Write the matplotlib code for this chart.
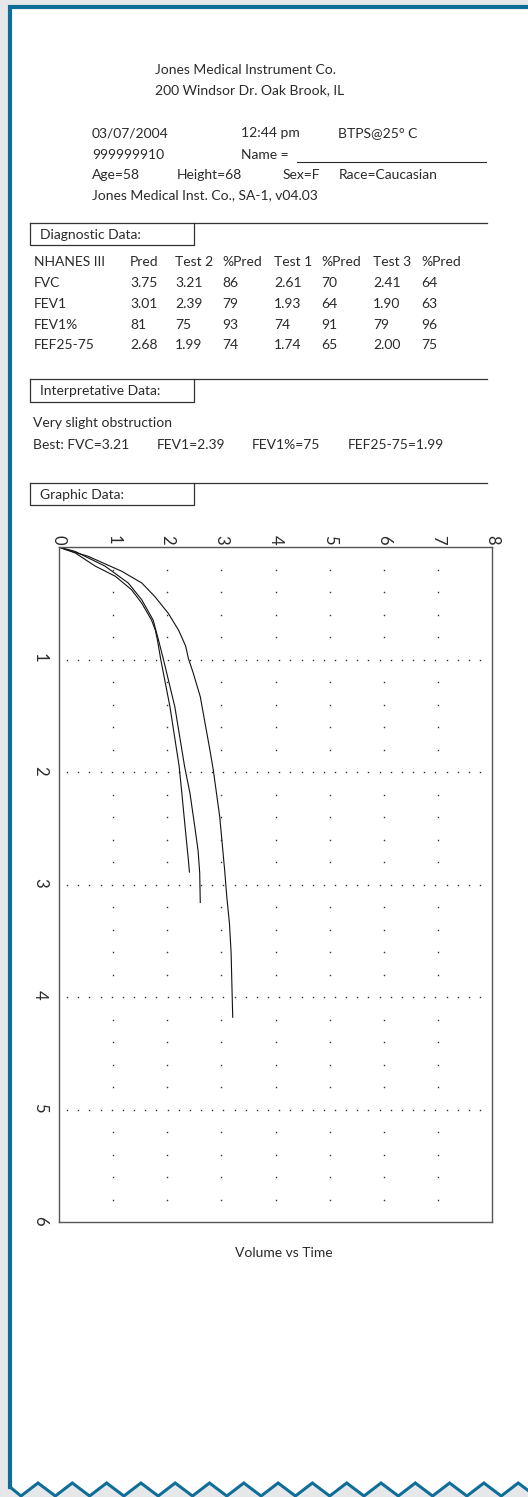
import matplotlib.pyplot as plt
import numpy as np

plt.rcParams['font.family'] = ['Lato', 'DejaVu Sans']

# volume-time traces (time in s, volume in L)
test2_time = [0, 0.02, 0.083, 0.216, 0.32, 0.44, 0.59, 0.74, 0.88, 0.99, 1.12, 1.33,
              1.57, 1.81, 1.98, 2.19, 2.40, 2.61, 2.87, 3.11, 3.35, 3.61, 4.00, 4.18]
test2_vol = [0, 0.10, 0.54, 1.16, 1.53, 1.77, 2.02, 2.21, 2.34, 2.39, 2.48, 2.61,
             2.70, 2.79, 2.85, 2.91, 2.97, 3.01, 3.06, 3.10, 3.15, 3.18, 3.20, 3.21]

test1_time = [0, 0.04, 0.17, 0.32, 0.47, 0.65, 0.83, 1.00, 1.42, 1.95, 2.19, 2.49, 2.70, 2.90, 3.16]
test1_vol = [0, 0.30, 0.85, 1.28, 1.53, 1.74, 1.84, 1.93, 2.14, 2.32, 2.42, 2.51, 2.57, 2.60, 2.61]

test3_time = [0, 0.053, 0.17, 0.26, 0.38, 0.50, 0.65, 0.74, 0.83, 1.00, 1.42, 1.95, 2.19, 2.49, 2.78, 2.89]
test3_vol = [0, 0.30, 0.67, 1.04, 1.34, 1.53, 1.71, 1.78, 1.82, 1.88, 2.05, 2.22, 2.27, 2.33, 2.39, 2.41]

# diagnostic table
table_cols = ['NHANES III', 'Pred', 'Test 2', '%Pred', 'Test 1', '%Pred', 'Test 3', '%Pred']
table_rows = ['FVC', 'FEV1', 'FEV1%', 'FEF25-75']
table_vals = [
    ['3.75', '3.21', '86', '2.61', '70', '2.41', '64'],
    ['3.01', '2.39', '79', '1.93', '64', '1.90', '63'],
    ['81', '75', '93', '74', '91', '79', '96'],
    ['2.68', '1.99', '74', '1.74', '65', '2.00', '75'],
]

x_ticks = [0, 1, 2, 3, 4, 5, 6, 7, 8]
y_ticks = [1, 2, 3, 4, 5, 6]

W, H = 528, 1497
BLUE = '#0f6e98'
TXT = '#2a2a2a'
FS = 10

fig = plt.figure(figsize=(W / 100, H / 100), dpi=100, facecolor='#e6e7e8')
bg = fig.add_axes([0, 0, 1, 1])
bg.set_xlim(0, W)
bg.set_ylim(H, 0)
bg.axis('off')

# paper with zigzag tear at the bottom
zx, zy = [10], [1487]
k = 0
while True:
    xt = 21 + 34.3 * k
    xp = 38 + 34.3 * k
    zx.append(xt); zy.append(1496)
    if xp > W + 20:
        break
    zx.append(xp); zy.append(1483)
    k += 1
paper_x = [10, W + 5] + [W + 5] + zx[::-1]
paper_y = [7, 7] + [zy[-1]] + zy[::-1]
bg.fill(paper_x, paper_y, color='white', lw=0)
bg.plot([W + 5, 10, 10], [7, 7, 1487], color=BLUE, lw=3, solid_joinstyle='miter')
bg.plot(zx, zy, color=BLUE, lw=2.2, solid_joinstyle='miter')


def txt(x, y, s, **kw):
    bg.text(x, y, s, va='center', ha='left', fontsize=FS, color=TXT, **kw)


# header
txt(155, 70, 'Jones Medical Instrument Co.')
txt(155, 90, '200 Windsor Dr. Oak Brook, IL')
txt(92, 133, '03/07/2004')
txt(241, 133, '12:44 pm')
txt(338, 133, 'BTPS@25° C')
txt(92, 155, '999999910')
txt(241, 155, 'Name =')
bg.plot([297, 486], [161.5, 161.5], color=TXT, lw=0.8)
txt(92, 175, 'Age=58')
txt(177, 175, 'Height=68')
txt(283, 175, 'Sex=F')
txt(339, 175, 'Race=Caucasian')
txt(92, 195, 'Jones Medical Inst. Co., SA-1, v04.03')


def section(y0, title):
    bg.plot([30, 487], [y0, y0], color='#333333', lw=0.9)
    bg.plot([30, 30, 194, 194], [y0, y0 + 22.5, y0 + 22.5, y0], color='#333333', lw=0.9)
    txt(40, y0 + 12, title)


section(222.7, 'Diagnostic Data:')
col_x = [34, 130, 175, 222, 274, 321, 373, 421]
row_y = [262, 283, 304, 325, 345]
for cx, c in zip(col_x, table_cols):
    txt(cx, row_y[0], c)
for ry, name, vals in zip(row_y[1:], table_rows, table_vals):
    txt(col_x[0], ry, name)
    for cx, v in zip(col_x[1:], vals):
        txt(cx, ry, v)

section(379, 'Interpretative Data:')
txt(33, 423, 'Very slight obstruction')
txt(33, 445, 'Best: FVC=3.21')
txt(157, 445, 'FEV1=2.39')
txt(252, 445, 'FEV1%=75')
txt(348, 445, 'FEF25-75=1.99')

section(482.7, 'Graphic Data:')
bg.text(284, 1253, 'Volume vs Time', ha='center', va='center', fontsize=FS, color=TXT)

# volume vs time plot
left, right, top, bottom = 59, 492, 547, 1222
ax = fig.add_axes([left / W, 1 - bottom / H, (right - left) / W, (bottom - top) / H])
ax.set_facecolor('none')
ax.set_xlim(0, 8)
ax.set_ylim(6, 0)
for sp in ax.spines.values():
    sp.set_color('#555555')
    sp.set_linewidth(1.0)

# dotted grid: full rows at each second, sparse dots in between
row_dots = np.linspace(0.15, 7.78, 38)
for yv in y_ticks[:-1]:
    ax.plot(row_dots, [yv] * len(row_dots), ls='none', marker='s', ms=1.0, mew=0, color='#333333')
col_dots = [t / 5 for t in range(1, 30) if t % 5 != 0]
for xv in x_ticks[1:-1]:
    ax.plot([xv] * len(col_dots), col_dots, ls='none', marker='s', ms=1.0, mew=0, color='#333333')

for tt, vv in [(test2_time, test2_vol), (test1_time, test1_vol), (test3_time, test3_vol)]:
    ax.plot(vv, tt, color='#111111', lw=0.8)

ax.xaxis.tick_top()
ax.set_xticks(x_ticks)
ax.set_yticks(y_ticks)
ax.tick_params(length=0, labelsize=12, colors=TXT)
ax.tick_params(axis='x', pad=2)
ax.tick_params(axis='y', pad=8)
for lab in ax.get_xticklabels() + ax.get_yticklabels():
    lab.set_rotation(-90)

fig.savefig('out.png', dpi=100, facecolor=fig.get_facecolor())
